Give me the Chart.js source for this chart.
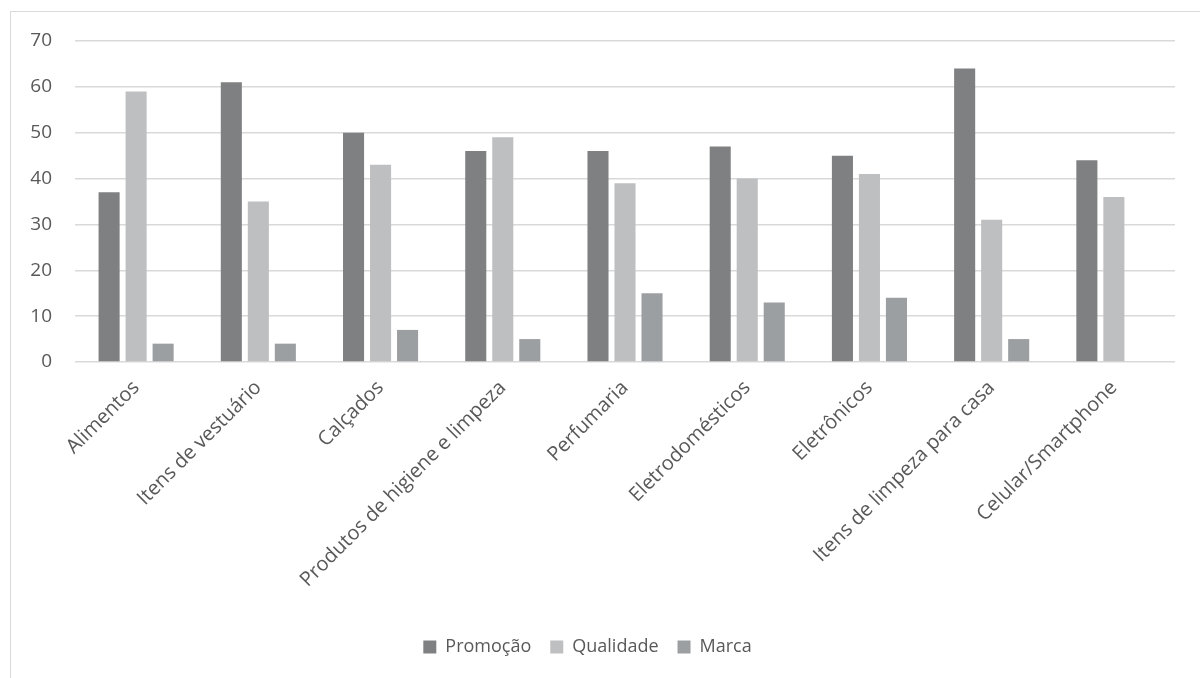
<!DOCTYPE html>
<html><head><meta charset="utf-8">
<script src="https://cdn.jsdelivr.net/npm/chart.js@4"></script>
<style>
html,body{margin:0;padding:0;background:#fff;}
#frame{position:absolute;left:10px;top:11px;width:1200px;height:700px;border:1px solid #d9d9d9;box-sizing:border-box;}
#wrap{position:absolute;left:0;top:0;width:1200px;height:678px;}
</style></head>
<body>
<div id="frame"></div>
<div id="wrap"><canvas id="c" width="1200" height="678"></canvas></div>
<script>
const categories = ["Alimentos","Itens de vestuário","Calçados","Produtos de higiene e limpeza","Perfumaria","Eletrodomésticos","Eletrônicos","Itens de limpeza para casa","Celular/Smartphone"];
const promocao = [37,61,50,46,46,47,45,64,44];
const qualidade = [59,35,43,49,39,40,41,31,36];
const marca = [4,4,7,5,15,13,14,5,null];
const yTicks = [0,10,20,30,40,50,60,70];

const font = "'Open Sans', sans-serif";
new Chart(document.getElementById('c'), {
  type: 'bar',
  data: {
    labels: categories,
    datasets: [
      {label:'Promoção', data: promocao, backgroundColor:'#7f8082'},
      {label:'Qualidade', data: qualidade, backgroundColor:'#bebfc1'},
      {label:'Marca', data: marca, backgroundColor:'#9c9fa2'}
    ]
  },
  options: {
    responsive:false, animation:false,
    categoryPercentage:0.663, barPercentage:0.78,
    layout:{padding:{left:0,right:25,top:41,bottom:12}},
    plugins:{
      legend:{position:'bottom',labels:{boxWidth:13,boxHeight:13,padding:19,color:'#595959',font:{family:font,size:18}}},
      tooltip:{enabled:false}
    },
    scales:{
      x:{
        grid:{display:false},
        border:{display:false},
        ticks:{maxRotation:45,minRotation:45,color:'#595959',font:{family:font,size:20},autoSkip:false,padding:6},
        afterFit: s => { s.height = 257; }
      },
      y:{
        min:0,max:70,
        afterBuildTicks: s => { s.ticks = yTicks.map(v=>({value:v})); },
        afterFit: s => { s.width = 75; },
        grid:{color:'#d9d9d9',lineWidth:1.5,drawTicks:false},
        border:{display:false},
        ticks:{color:'#595959',font:{family:font,size:19},padding:23}
      }
    }
  }
});
</script>
</body></html>
